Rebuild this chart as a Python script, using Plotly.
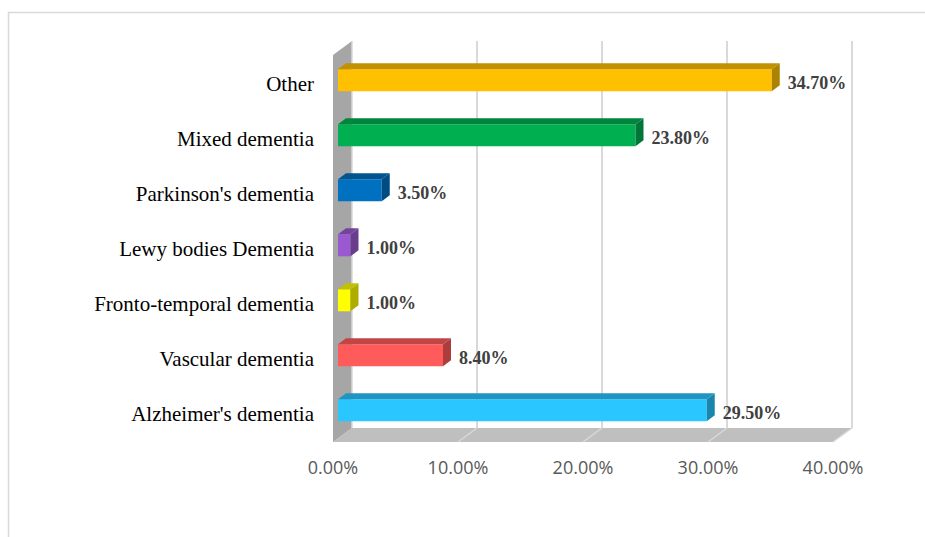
import plotly.graph_objects as go

# Dementia types (bottom to top) and share of cases, in percent
categories = [
    "Alzheimer's dementia",
    "Vascular dementia",
    "Fronto-temporal dementia",
    "Lewy bodies Dementia",
    "Parkinson's dementia",
    "Mixed dementia",
    "Other",
]
values = [29.5, 8.4, 1.0, 1.0, 3.5, 23.8, 34.7]
colors = ["#29C6FF", "#FF5B5B", "#FFFF00", "#9B59D1", "#0070C0", "#00B050", "#FFC000"]
tick_values = [0, 10, 20, 30, 40]
tick_labels = ["0.00%", "10.00%", "20.00%", "30.00%", "40.00%"]

W, H = 925, 537
L, R, T, B = 318, 25, 30, 87
PX_X = 12.5          # pixels per percentage point
PX_Y = 55.0          # pixels per category step
X0_PX = 333          # pixel position of 0 % on the front plane
Y0_PX = 414          # pixel position of the first category

plot_w = W - L - R
plot_h = H - T - B
x_range = [(L - X0_PX) / PX_X, (W - R - X0_PX) / PX_X]
y_range = [(Y0_PX - (H - B)) / PX_Y, (Y0_PX - T) / PX_Y]

# 3-D depth of the box (pixels -> data units)
DEPTH_X = 19 / PX_X
DEPTH_Y = 14 / PX_Y
floor_y = -28 / PX_Y           # front edge of the floor
wall_top = 359 / PX_Y          # front top of the side wall
x_max = tick_values[-1]

# bars sit a little way into the box
BAR_DX = 5 / PX_X
BAR_DY = 3.7 / PX_Y
BAR_W = 0.4
FACE_DX = 8 / PX_X
FACE_DY = 6 / PX_Y
LABEL_GAP = 8 / PX_X


def shade(hex_color, f):
    h = hex_color.lstrip("#")
    r, g, b = (int(h[i:i + 2], 16) for i in (0, 2, 4))
    return "#{:02X}{:02X}{:02X}".format(int(r * f), int(g * f), int(b * f))


shapes = []
# floor
shapes.append(dict(
    type="path", xref="x", yref="y", layer="below",
    path=f"M 0 {floor_y} L {x_max} {floor_y} L {x_max + DEPTH_X} {floor_y + DEPTH_Y} "
         f"L {DEPTH_X} {floor_y + DEPTH_Y} Z",
    fillcolor="#BFBFBF", line=dict(width=0),
))
# left side wall
shapes.append(dict(
    type="path", xref="x", yref="y", layer="below",
    path=f"M 0 {floor_y} L 0 {wall_top} L {DEPTH_X} {wall_top + DEPTH_Y} "
         f"L {DEPTH_X} {floor_y + DEPTH_Y} Z",
    fillcolor="#A6A6A6", line=dict(width=0),
))
# gridlines on the back wall and across the floor
for v in tick_values:
    shapes.append(dict(
        type="line", xref="x", yref="y", layer="below",
        x0=v + DEPTH_X, x1=v + DEPTH_X,
        y0=floor_y + DEPTH_Y, y1=wall_top + DEPTH_Y,
        line=dict(color="#D9D9D9", width=2 if v else 1.5),
    ))
    if v:
        shapes.append(dict(
            type="line", xref="x", yref="y", layer="below",
            x0=v + DEPTH_X, x1=v, y0=floor_y + DEPTH_Y, y1=floor_y,
            line=dict(color="#D9D9D9", width=1.5),
        ))
# chart border
shapes.append(dict(
    type="rect", xref="paper", yref="paper",
    x0=(8.5 - L) / plot_w, x1=(W + 5 - L) / plot_w,
    y0=(H - B - (H + 5)) / plot_h, y1=(H - B - 12.5) / plot_h,
    line=dict(color="#D9D9D9", width=1.5), fillcolor="rgba(0,0,0,0)", layer="below",
))

fig = go.Figure()

ys = list(range(len(categories)))

# top and side faces of each bar
for i, (v, c) in enumerate(zip(values, colors)):
    x_l = BAR_DX
    x_r = BAR_DX + v
    y_b = i + BAR_DY - BAR_W / 2
    y_t = i + BAR_DY + BAR_W / 2
    fig.add_trace(go.Scatter(
        x=[x_l, x_r, x_r + FACE_DX, x_l + FACE_DX, x_l],
        y=[y_t, y_t, y_t + FACE_DY, y_t + FACE_DY, y_t],
        mode="lines", fill="toself", fillcolor=shade(c, 0.76),
        line=dict(width=0), hoverinfo="skip", showlegend=False,
    ))
    fig.add_trace(go.Scatter(
        x=[x_r, x_r + FACE_DX, x_r + FACE_DX, x_r, x_r],
        y=[y_b, y_b + FACE_DY, y_t + FACE_DY, y_t, y_b],
        mode="lines", fill="toself", fillcolor=shade(c, 0.68),
        line=dict(width=0), hoverinfo="skip", showlegend=False,
    ))

# front faces
fig.add_trace(go.Bar(
    orientation="h",
    y=[i + BAR_DY for i in ys],
    x=values,
    base=[BAR_DX] * len(values),
    width=BAR_W,
    marker=dict(color=colors, line=dict(width=0)),
    showlegend=False,
))

# value labels
fig.add_trace(go.Scatter(
    x=[v + BAR_DX + FACE_DX + LABEL_GAP for v in values],
    y=ys,
    mode="text",
    text=[f"{v:.2f}%" for v in values],
    textposition="middle right",
    textfont=dict(family="Liberation Serif", size=18, color="#404040", weight="bold"),
    hoverinfo="skip", showlegend=False,
))

fig.update_layout(
    width=W, height=H,
    margin=dict(l=L, r=R, t=T, b=B),
    paper_bgcolor="white", plot_bgcolor="white",
    shapes=shapes,
    barmode="overlay",
    xaxis=dict(
        range=x_range, showgrid=False, zeroline=False, showline=False,
        tickmode="array", tickvals=tick_values, ticktext=tick_labels,
        tickfont=dict(family="Open Sans", size=18, color="#595959"),
        ticks="", ticklabelstandoff=5, fixedrange=True,
    ),
    yaxis=dict(
        range=y_range, showgrid=False, zeroline=False, showline=False,
        tickmode="array", tickvals=ys, ticktext=categories,
        tickfont=dict(family="Liberation Serif", size=21, color="#000000"),
        ticks="", ticklabelstandoff=3, fixedrange=True,
    ),
)

fig.write_html("out.html")
